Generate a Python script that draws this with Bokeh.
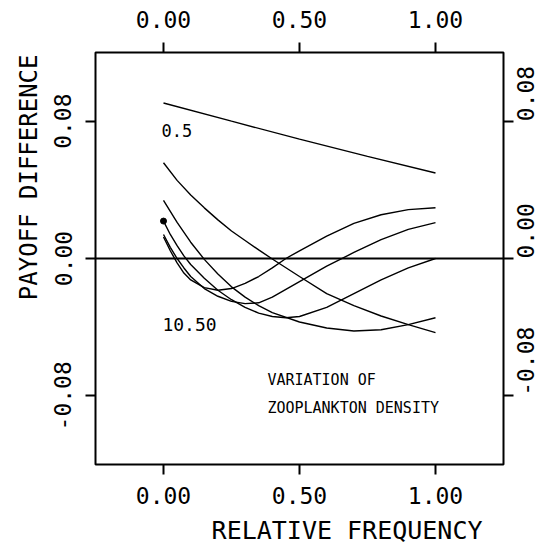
from math import pi
from bokeh.plotting import figure
from bokeh.models import LinearAxis, FixedTicker, PrintfTickFormatter, Span, Label, Title
from bokeh.embed import file_html
from bokeh.resources import INLINE

FONT = "DejaVu Sans Mono"

# ---- data ----
x_ticks = [0.0, 0.5, 1.0]
y_ticks = [-0.08, 0.0, 0.08]

# density 0.5
x_a = [0.0, 0.25, 0.5, 0.75, 1.0]
y_a = [0.0906, 0.0800, 0.0695, 0.0595, 0.0498]

x_b = [0.0, 0.05, 0.1, 0.15, 0.2, 0.25, 0.3, 0.35, 0.4, 0.5, 0.6, 0.7, 0.8, 0.9, 1.0]
y_b = [0.0558, 0.0455, 0.0370, 0.0295, 0.0225, 0.0160, 0.0105, 0.0050, -0.0003,
       -0.0105, -0.0205, -0.0275, -0.0335, -0.0385, -0.0432]

x_c = [0.0, 0.05, 0.1, 0.15, 0.2, 0.25, 0.3, 0.35, 0.4, 0.5, 0.6, 0.7, 0.8, 0.9, 1.0]
y_c = [0.0339, 0.0210, 0.0095, -0.0005, -0.0090, -0.0165, -0.0225, -0.0275, -0.0315,
       -0.0370, -0.0405, -0.0422, -0.0415, -0.0385, -0.0345]

x_d = [0.0, 0.025, 0.05, 0.075, 0.1, 0.15, 0.2, 0.25, 0.3, 0.35, 0.4, 0.45, 0.5, 0.6, 0.7, 0.8, 0.9, 1.0]
y_d = [0.0218, 0.0140, 0.0075, 0.0015, -0.0035, -0.0115, -0.0185, -0.0240, -0.0285,
       -0.0318, -0.0338, -0.0345, -0.0338, -0.0285, -0.0205, -0.0125, -0.0055, 0.0]

x_e = [0.0, 0.025, 0.05, 0.075, 0.1, 0.15, 0.2, 0.25, 0.3, 0.35, 0.4, 0.5, 0.6, 0.7, 0.8, 0.9, 1.0]
y_e = [0.0140, 0.0065, 0.0, -0.0055, -0.0105, -0.0175, -0.0220, -0.0250, -0.0263,
       -0.0258, -0.0225, -0.0135, -0.0045, 0.0035, 0.0110, 0.0170, 0.0209]

# density 10.50
x_f = [0.0, 0.025, 0.05, 0.075, 0.1, 0.15, 0.2, 0.25, 0.3, 0.35, 0.4, 0.45, 0.5, 0.6, 0.7, 0.8, 0.9, 1.0]
y_f = [0.0125, 0.0045, -0.0025, -0.0085, -0.0125, -0.0170, -0.0185, -0.0175, -0.0145,
       -0.0105, -0.0055, 0.0, 0.0045, 0.0130, 0.0205, 0.0255, 0.0285, 0.0296]

dot_x = [0.0]
dot_y = [0.0218]

curves = [(x_a, y_a), (x_b, y_b), (x_c, y_c), (x_d, y_d), (x_e, y_e), (x_f, y_f)]

# ---- figure ----
p = figure(width=548, height=552, x_range=(-0.25, 1.25), y_range=(-0.12, 0.12),
           output_backend="svg", toolbar_location=None,
           x_axis_location=None, y_axis_location=None,
           min_border_left=95, min_border_right=45, min_border_top=52, min_border_bottom=88)
p.grid.visible = False
p.outline_line_color = "black"
p.outline_line_width = 2
p.background_fill_color = "white"
p.border_fill_color = "white"


def make_axis(ticks, standoff, orientation=None):
    ax = LinearAxis(ticker=FixedTicker(ticks=ticks),
                    formatter=PrintfTickFormatter(format="%.2f"))
    ax.axis_line_color = None
    ax.major_tick_in = 0
    ax.major_tick_out = 10
    ax.major_tick_line_width = 2
    ax.major_tick_line_color = "black"
    ax.minor_tick_line_color = None
    ax.major_label_text_font = FONT
    ax.major_label_text_font_size = "23px"
    ax.major_label_text_color = "black"
    ax.major_label_standoff = standoff
    if orientation is not None:
        ax.major_label_orientation = orientation
    return ax


p.add_layout(make_axis(x_ticks, 12), "below")
p.add_layout(make_axis(x_ticks, 15), "above")
p.add_layout(make_axis(y_ticks, 14, "vertical"), "left")
p.add_layout(make_axis(y_ticks, 12, pi / 2), "right")

p.add_layout(Title(text="RELATIVE FREQUENCY", align="right", offset=21, standoff=15,
                   text_font=FONT, text_font_size="25px", text_font_style="normal",
                   text_color="black"), "below")
p.add_layout(Title(text="PAYOFF DIFFERENCE", align="right", offset=2, standoff=17,
                   text_font=FONT, text_font_size="24px", text_font_style="normal",
                   text_color="black"), "left")

p.add_layout(Span(location=0, dimension="width", line_color="black", line_width=2))

for xs, ys in curves:
    p.line(xs, ys, line_color="black", line_width=1.4)

p.scatter(dot_x, dot_y, size=6, color="black")

labels = [
    ("0.5", -0.007, 0.0743, "17px"),
    ("10.50", -0.004, -0.0384, "18px"),
    ("VARIATION OF", 0.382, -0.0705, "15px"),
    ("ZOOPLANKTON DENSITY", 0.382, -0.0868, "15px"),
]
for txt, lx, ly, fs in labels:
    p.add_layout(Label(x=lx, y=ly, text=txt, text_font=FONT, text_font_size=fs,
                       text_baseline="middle", text_align="left", text_color="black"))

open("out.html", "w").write(file_html(p, INLINE))
